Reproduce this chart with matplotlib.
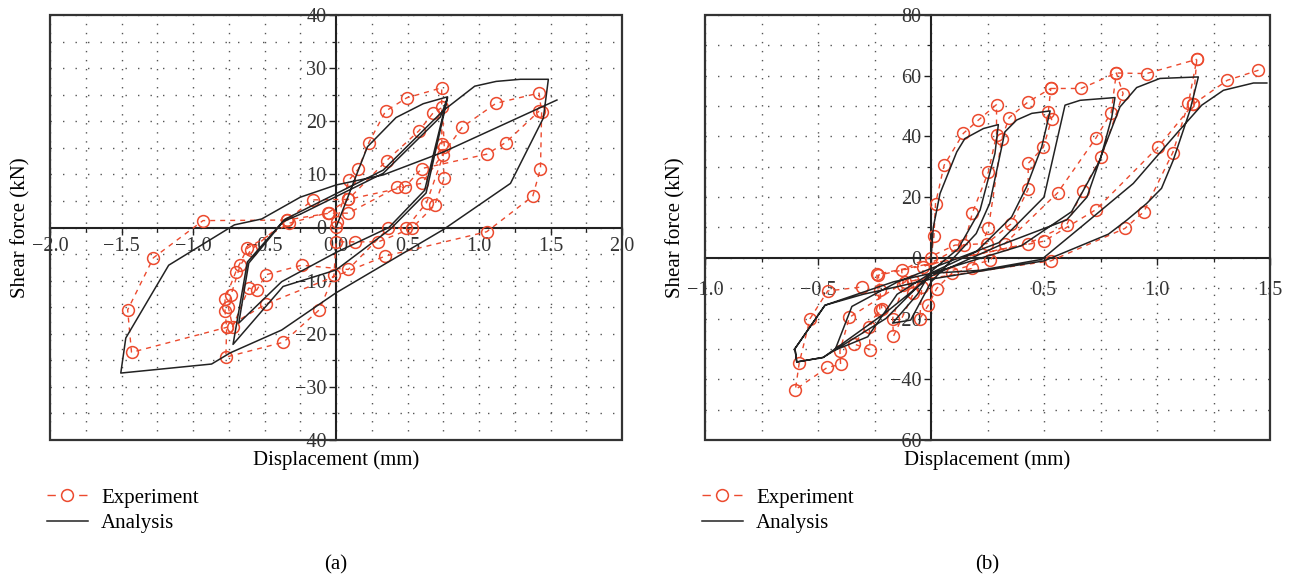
import matplotlib
matplotlib.use('Agg')
import matplotlib.pyplot as plt
from matplotlib.patches import Rectangle
from matplotlib.lines import Line2D
from matplotlib.ticker import MultipleLocator

plt.rcParams['font.family'] = ['Liberation Serif', 'DejaVu Serif']
plt.rcParams['axes.unicode_minus'] = True

RED = '#EC4A2E'
INK = '#222222'

# ---- (a) 시험체 A : 실험 / 해석 이력곡선 ----
exp_a_x = [0.0, 0.005, 0.09, 0.156, 0.23, 0.347, 0.494, 0.739,
           0.74, 0.757, 0.69, 0.53, 0.296, 0.133, 0.0, -0.014, -0.117, -0.368, -0.77,
           -0.765, -0.776, -0.776, -0.70, -0.62, -0.327, -0.054, 0.086, 0.354, 0.58, 0.68, 0.743,
           0.757, 0.75, 0.634, 0.49, 0.366, 0.086, -0.24, -0.49, -0.555, -0.61, -0.722,
           -0.753, -0.734, -0.67, -0.594, -0.345, -0.047, 0.086, 0.43, 0.6, 0.883, 1.12, 1.42,
           1.438, 1.43, 1.376, 1.054, 0.343, -0.49, -0.765, -1.43, -1.457, -1.277, -0.93,
           -0.345, -0.16, 0.086, 0.48, 0.6, 1.054, 1.187, 1.42]
exp_a_y = [0.15, 1.1, 8.9, 11.0, 16.0, 21.9, 24.4, 26.3,
           15.7, 9.3, 4.2, -0.15, -2.7, -2.7, -2.7, -8.9, -15.5, -21.6, -24.4,
           -18.8, -15.8, -13.5, -8.3, -3.9, 0.8, 2.8, 5.3, 12.6, 18.2, 21.6, 22.6,
           15.2, 13.6, 4.7, -0.15, -0.15, -7.9, -7.1, -8.9, -11.8, -11.4, -18.7,
           -15.0, -12.7, -7.1, -4.2, 1.4, 2.7, 2.7, 7.6, 8.3, 18.9, 23.4, 25.3,
           21.7, 11.1, 5.9, -0.8, -5.4, -14.4, -18.8, -23.5, -15.5, -5.7, 1.3,
           1.4, 5.2, 5.3, 7.6, 11.1, 13.8, 16.0, 21.9]

ana_a_x = [0.0, 0.22, 0.42, 0.61, 0.78,
           0.62, 0.37, 0.0, -0.38, -0.68,
           -0.61, -0.37, -0.25, 0.33, 0.73, 0.78,
           0.63, 0.38, 0.0, -0.37, -0.72,
           -0.62, -0.36, 0.33, 0.75, 0.97, 1.12, 1.29, 1.485,
           1.45, 1.22, 0.75, 0.0, -0.38, -0.74, -0.87, -1.505,
           -1.47, -1.17, -0.71, -0.52, -0.25, 0.0, 0.33, 0.75, 1.545]
ana_a_y = [0.0, 15.2, 20.7, 23.3, 24.6,
           7.0, 0.0, -4.7, -10.2, -18.0,
           -6.7, 1.1, 2.5, 10.2, 20.8, 24.4,
           6.5, -0.3, -8.0, -11.1, -22.0,
           -6.5, 1.5, 10.8, 22.0, 26.6, 27.5, 27.9, 27.9,
           20.6, 8.3, -0.4, -12.3, -19.3, -23.6, -25.7, -27.4,
           -20.8, -7.1, 0.5, 1.6, 5.7, 8.0, 9.9, 14.2, 24.0]

# ---- (b) 시험체 B ----
exp_b_x = [0.0, 0.013, 0.02, 0.058, 0.143, 0.21, 0.29,
           0.29, 0.254, 0.183, 0.147, -0.034, -0.041, -0.049,
           -0.012, 0.025, 0.092, 0.18, 0.254, 0.313, 0.346, 0.43, 0.53,
           0.519, 0.534, 0.497, 0.43, 0.43, 0.353, 0.246, 0.106, -0.13, -0.122, -0.17, -0.166,
           -0.078, -0.078, 0.261, 0.327, 0.56, 0.73, 0.797, 0.82,
           0.85, 0.754, 0.671, 0.6, 0.43, -0.233, -0.226, -0.218, -0.273, -0.27,
           -0.34, -0.226, -0.24, 0.5, 0.73, 1.006, 1.16, 1.176,
           1.139, 1.07, 0.942, 0.858, 0.53, -0.115, -0.361, -0.403, -0.4, -0.459,
           -0.6, -0.583, -0.535, -0.457, -0.306]
exp_b_y = [0.0, 7.1, 17.9, 30.5, 41.0, 45.4, 50.5,
           40.6, 28.3, 14.8, 4.2, -3.0, -9.5, -20.0,
           -15.6, -10.1, -5.1, -3.5, 9.7, 39.3, 46.2, 51.4, 55.8,
           48.1, 45.7, 36.4, 31.1, 22.6, 11.1, 4.7, 4.2, -4.1, -9.0, -20.0, -25.8,
           -11.7, -7.6, -0.8, 4.7, 21.4, 39.5, 47.8, 60.9,
           54.1, 33.3, 22.1, 10.8, 4.7, -5.7, -10.7, -16.7, -22.7, -30.2,
           -28.4, -17.2, -5.4, 5.5, 15.9, 36.6, 50.6, 65.4,
           50.9, 34.7, 15.2, 9.7, -1.0, -7.9, -19.6, -30.6, -35.1, -36.1,
           -43.4, -34.6, -20.0, -10.9, -9.6]
# 포락선 구간과 마지막 재재하 구간
exp_b_env_x = [0.53, 0.665, 0.82, 0.954, 1.176]
exp_b_env_y = [55.8, 55.8, 60.9, 60.7, 65.4]
exp_b_tail_x = [1.16, 1.311, 1.449]
exp_b_tail_y = [50.6, 58.5, 61.8]

ana_b_x = [0.0, 0.01, 0.04, 0.114, 0.15, 0.232, 0.298,
           0.283, 0.217, 0.12, 0.0, -0.06, -0.17,
           -0.09, 0.0, 0.1, 0.2, 0.26, 0.327, 0.379, 0.446, 0.527,
           0.49, 0.423, 0.357, 0.2, 0.0, -0.15, -0.28, -0.425,
           -0.35, -0.15, 0.0, 0.3, 0.5, 0.593, 0.66, 0.814,
           0.8, 0.748, 0.622, 0.4, 0.0, -0.166, -0.469, -0.602, -0.594,
           -0.477, -0.2, 0.0, 0.3, 0.6, 0.69, 0.76, 0.836, 0.91, 1.013, 1.183,
           1.146, 1.072, 1.02, 0.954, 0.866, 0.785, 0.5, 0.0, -0.3, -0.469, -0.602, -0.594,
           -0.477, -0.2, 0.0, 0.217, 0.49, 0.674, 0.895, 1.087, 1.198, 1.294, 1.427, 1.486]
ana_b_y = [0.0, 10.0, 21.2, 34.9, 39.3, 42.6, 43.9,
           34.4, 15.7, 3.0, -4.5, -12.0, -21.5,
           -20.5, -8.0, 0.0, 8.0, 18.0, 41.5, 45.4, 47.6, 48.4,
           36.6, 23.4, 13.5, 2.0, -5.0, -12.0, -26.0, -30.4,
           -16.0, -8.0, -3.5, 5.0, 20.0, 50.3, 51.9, 52.8,
           46.4, 32.2, 15.2, 4.0, -5.1, -7.9, -15.6, -29.9, -34.3,
           -32.8, -18.0, -6.0, 4.0, 12.5, 20.0, 35.0, 49.7, 56.1, 59.1, 59.6,
           48.6, 32.2, 22.9, 17.9, 12.4, 7.8, -1.0, -7.0, -12.0, -15.6, -29.9, -34.3,
           -32.8, -20.0, -5.1, -4.1, -0.5, 10.8, 24.5, 41.0, 50.3, 55.2, 57.6, 57.6]


def setup_axes(ax, xlim, ylim, xminor, yminor, xticks, yticks, hide_x0, xpad):
    ax.set_xlim(*xlim)
    ax.set_ylim(*ylim)
    for s in ['top', 'right']:
        ax.spines[s].set_visible(False)
    ax.spines['left'].set_position(('data', 0))
    ax.spines['bottom'].set_position(('data', 0))
    for s in ['left', 'bottom']:
        ax.spines[s].set_linewidth(1.5)
        ax.spines[s].set_color(INK)
    ax.add_patch(Rectangle((0, 0), 1, 1, transform=ax.transAxes, fill=False,
                           lw=1.6, ec='#333333', clip_on=False, zorder=6))
    ax.set_xticks(xticks)
    ax.set_xticklabels(['' if (hide_x0 and t == 0) else f'{t:.1f}'.replace('-', '\u2212')
                        for t in xticks])
    ax.set_yticks(yticks)
    ax.set_yticklabels([f'{t:d}'.replace('-', '\u2212') for t in yticks])
    ax.xaxis.set_minor_locator(MultipleLocator(xminor))
    ax.yaxis.set_minor_locator(MultipleLocator(yminor))
    ax.tick_params(which='major', direction='out', length=5, width=1.0, colors=INK,
                   labelsize=14.5, labelcolor='#333333')
    ax.tick_params(which='minor', direction='out', length=3, width=0.9, colors=INK)
    ax.tick_params(axis='x', which='major', pad=xpad)
    ax.tick_params(axis='y', which='major', pad=2)
    ax.grid(True, which='both', axis='y', color='#555555', lw=1.0, ls=(0, (1, 8)))
    ax.grid(True, which='both', axis='x', color='#555555', lw=1.0, ls=(0, (1, 5.5)))
    ax.set_axisbelow(True)


fig = plt.figure(figsize=(12.9, 5.79), dpi=100)
ax1 = fig.add_axes([50/1290, 1-440/579, 572/1290, 425/579])
ax2 = fig.add_axes([705/1290, 1-440/579, 565/1290, 425/579])

setup_axes(ax1, (-2, 2), (-40, 40), 0.25, 5,
           [-2.0, -1.5, -1.0, -0.5, 0.0, 0.5, 1.0, 1.5, 2.0],
           list(range(-40, 41, 10)), False, 2)
setup_axes(ax2, (-1, 1.5), (-60, 80), 0.25, 10,
           [-1.0, -0.5, 0.0, 0.5, 1.0, 1.5],
           list(range(-60, 81, 20)), True, 12)

exp_style = dict(color=RED, lw=1.0, ls=(0, (3.6, 3.6)), marker='o', ms=8.5,
                 mfc='none', mec=RED, mew=1.1, zorder=3, clip_on=False)
ana_style = dict(color=INK, lw=1.1, zorder=4, clip_on=False)

ax1.plot(exp_a_x, exp_a_y, **exp_style)
ax1.plot(ana_a_x, ana_a_y, **ana_style)
ax2.plot(exp_b_x, exp_b_y, **exp_style)
ax2.plot(exp_b_env_x, exp_b_env_y, **exp_style)
ax2.plot(exp_b_tail_x, exp_b_tail_y, **exp_style)
ax2.plot(ana_b_x, ana_b_y, **ana_style)

for ax, lab in [(ax1, '(a)'), (ax2, '(b)')]:
    pos = ax.get_position()
    xm = (pos.x0 + pos.x1) / 2
    fig.text(xm, 1 - 460/579, 'Displacement (mm)', ha='center', va='center', fontsize=15)
    fig.text(pos.x0 - 29/1290, (pos.y0 + pos.y1) / 2, 'Shear force (kN)', rotation=90,
             ha='center', va='center', fontsize=15)
    fig.text(xm, 1 - 565/579, lab, ha='center', va='center', fontsize=15)
    handles = [Line2D([], [], color=RED, lw=1.0, ls=(0, (6, 16.8)), marker='o', ms=8.5,
                      mfc='white', mec=RED, mew=1.1),
               Line2D([], [], color=INK, lw=1.1)]
    fig.legend(handles, ['Experiment', 'Analysis'], loc='upper left',
               bbox_to_anchor=(pos.x0 - 3/1290, 1 - 488/579), frameon=False,
               fontsize=15, handlelength=1.95, handletextpad=0.65, labelspacing=0.3,
               borderaxespad=0, borderpad=0, numpoints=1)

fig.savefig('out.png', dpi=100)
